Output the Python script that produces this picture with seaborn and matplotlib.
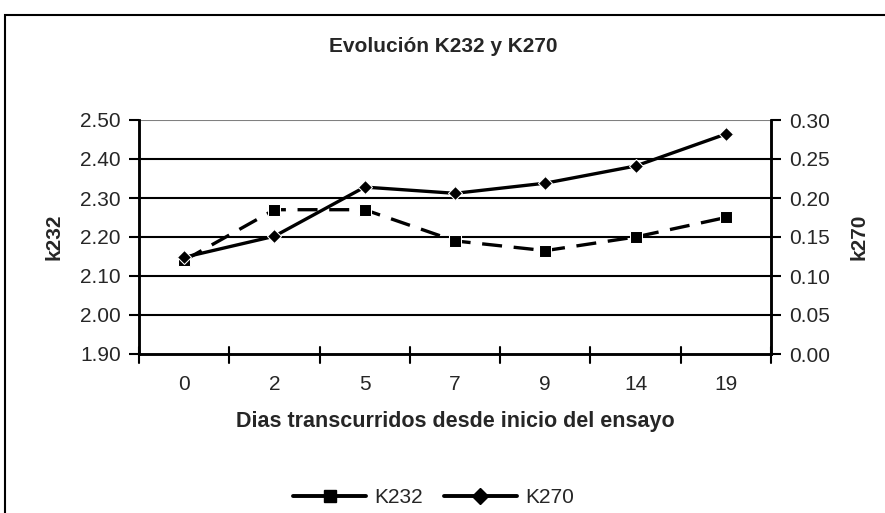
import matplotlib
matplotlib.use("Agg")
import matplotlib.pyplot as plt
import seaborn as sns
import pandas as pd
from matplotlib.lines import Line2D
from matplotlib.patches import Rectangle

# data
dias = ["0", "2", "5", "7", "9", "14", "19"]
k232 = [2.14, 2.27, 2.27, 2.19, 2.165, 2.20, 2.25]
k270 = [0.124, 0.151, 0.214, 0.206, 0.219, 0.241, 0.282]

df = pd.DataFrame({"dias": dias, "k232": k232, "k270": k270})

sns.set_style("white")
plt.rcParams["font.family"] = ["Liberation Sans", "DejaVu Sans"]

fig = plt.figure(figsize=(8.85, 5.13), dpi=100)
ax = fig.add_axes([139 / 885, 1 - 354 / 513, (771 - 139) / 885, (354 - 120) / 513])
ax2 = ax.twinx()

# outer chart border (Excel style)
fig.patches.append(Rectangle((5 / 885, -0.05), 1.0, 1 - 15 / 513 + 0.05,
                             transform=fig.transFigure, fill=False,
                             edgecolor="black", lw=1.5))

sns.lineplot(data=df, x="dias", y="k232", ax=ax, color="black", lw=2.4,
             marker="s", markersize=8, dashes=False, sort=False)
ax.lines[-1].set_dashes((6, 3.5))
sns.lineplot(data=df, x="dias", y="k270", ax=ax2, color="black", lw=2.4,
             marker="D", markersize=7, sort=False)

ax.set_xlim(-0.5, len(dias) - 0.5)
ax.set_ylim(1.90, 2.50)
ax2.set_ylim(0.0, 0.30)
ax.set_yticks([1.90, 2.00, 2.10, 2.20, 2.30, 2.40, 2.50])
ax2.set_yticks([0.00, 0.05, 0.10, 0.15, 0.20, 0.25, 0.30])
ax.set_yticklabels([f"{v:.2f}" for v in ax.get_yticks()], fontsize=15)
ax2.set_yticklabels([f"{v:.2f}" for v in ax2.get_yticks()], fontsize=15)

# gridlines
for v in ax.get_yticks()[1:-1]:
    ax.axhline(v, color="black", lw=1.5, zorder=0)
ax.axhline(2.50, color="gray", lw=1.5, zorder=0)

# category labels centered, tick marks at boundaries
ax.set_xticks(range(len(dias)))
ax.set_xticklabels(dias, fontsize=15)
ax.tick_params(axis="x", length=0, pad=15)
for b in range(len(dias) + 1):
    ax.plot([b - 0.5, b - 0.5], [-0.04, 0.03], transform=ax.get_xaxis_transform(),
            color="black", lw=1.5, clip_on=False)

ax.tick_params(axis="y", direction="out", length=7, width=1.5, color="black", pad=6)
ax2.tick_params(axis="y", direction="out", length=7, width=1.5, color="black", pad=6)

for a in (ax, ax2):
    a.spines["top"].set_visible(False)
    for s in ("left", "right", "bottom"):
        a.spines[s].set_linewidth(1.8)
        a.spines[s].set_color("black")

ax.set_xlabel("Dias transcurridos desde inicio del ensayo", fontsize=15.5,
              fontweight="bold", labelpad=12)
ax.set_ylabel("k232", fontsize=15, fontweight="bold", labelpad=12)
ax2.set_ylabel("k270", fontsize=15, fontweight="bold", labelpad=14)
fig.text(443 / 885, 1 - 47 / 513, "Evolución K232 y K270", fontsize=15,
         fontweight="bold", ha="center", va="center")

handles = [
    Line2D([], [], color="black", lw=2.8, marker="s", markersize=9),
    Line2D([], [], color="black", lw=2.8, marker="D", markersize=8),
]
fig.legend(handles, ["K232", "K270"], loc="center", bbox_to_anchor=(0.49, 0.03),
           ncol=2, frameon=False, fontsize=15, handlelength=3.5,
           columnspacing=1.0, handletextpad=0.4)

fig.savefig("out.png", dpi=100)
